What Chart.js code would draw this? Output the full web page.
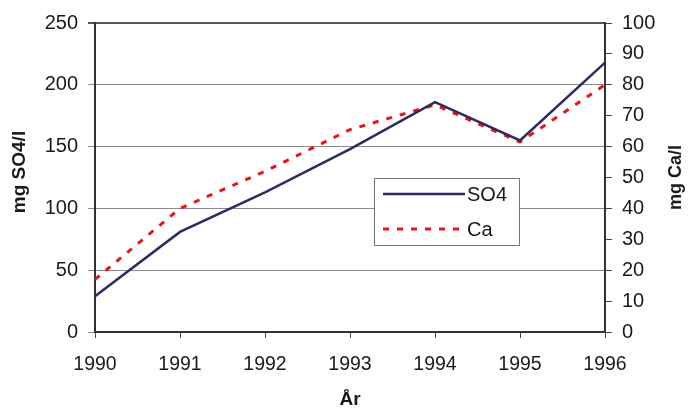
<!DOCTYPE html>
<html>
<head>
<meta charset="utf-8">
<script src="https://cdn.jsdelivr.net/npm/chart.js@4/dist/chart.umd.min.js"></script>
<style>
  html, body { margin: 0; padding: 0; background: #fff; }
  canvas { display: block; }
</style>
</head>
<body>
<canvas id="c" width="689" height="408"></canvas>
<script>
const years = ['1990', '1991', '1992', '1993', '1994', '1995', '1996'];
const so4Values = [29, 81, 113, 148, 186, 155, 218];
const caValues = [17, 40, 52, 65.5, 73.5, 61.5, 80];
const leftTicks = [0, 50, 100, 150, 200, 250];
const rightTicks = [0, 10, 20, 30, 40, 50, 60, 70, 80, 90, 100];
const leftTitle = 'mg SO4/l';
const rightTitle = 'mg Ca/l';
const xTitle = 'År';

const FONT = '"Liberation Sans", Arial, Helvetica, sans-serif';
const TXT = '#1a1a1a';

const sideTitlesPlugin = {
  id: 'sideTitles',
  afterDraw(chart) {
    const ctx = chart.ctx;
    const area = chart.chartArea;
    ctx.save();
    ctx.font = 'bold 19px ' + FONT;
    ctx.fillStyle = TXT;
    ctx.textAlign = 'center';
    ctx.textBaseline = 'middle';
    ctx.save();
    ctx.translate(20, 172);
    ctx.rotate(-Math.PI / 2);
    ctx.fillText(leftTitle, 0, 0);
    ctx.restore();
    ctx.save();
    ctx.translate(676, (area.top + area.bottom) / 2);
    ctx.rotate(-Math.PI / 2);
    ctx.font = 'bold 18px ' + FONT;
    ctx.fillText(rightTitle, 0, 0);
    ctx.restore();
    ctx.restore();
  }
};

const boxLegendPlugin = {
  id: 'boxLegend',
  afterDraw(chart) {
    const ctx = chart.ctx;
    const ds = chart.data.datasets;
    ctx.save();
    ctx.fillStyle = '#fff';
    ctx.fillRect(374, 178, 145, 67);
    ctx.strokeStyle = '#777';
    ctx.lineWidth = 1;
    ctx.strokeRect(374.5, 178.5, 145, 67);
    const rows = [194, 229];
    ds.forEach((d, i) => {
      const y = rows[i];
      ctx.beginPath();
      ctx.strokeStyle = d.borderColor;
      ctx.lineWidth = d.borderWidth;
      ctx.setLineDash(d.borderDash || []);
      ctx.moveTo(383, y);
      ctx.lineTo(465, y);
      ctx.stroke();
      ctx.setLineDash([]);
      ctx.fillStyle = TXT;
      ctx.font = '20px ' + FONT;
      ctx.textAlign = 'left';
      ctx.textBaseline = 'middle';
      ctx.fillText(d.label, 467, y + 1);
    });
    ctx.restore();
  }
};

new Chart(document.getElementById('c'), {
  type: 'line',
  data: {
    labels: years,
    datasets: [
      {
        label: 'SO4',
        data: so4Values,
        yAxisID: 'y',
        borderColor: '#2f2b5f',
        borderWidth: 2.5,
        pointRadius: 0,
        tension: 0,
        fill: false
      },
      {
        label: 'Ca',
        data: caValues,
        yAxisID: 'y1',
        borderColor: '#e8141c',
        borderWidth: 3,
        borderDash: [6, 8],
        pointRadius: 0,
        tension: 0,
        fill: false
      }
    ]
  },
  options: {
    responsive: false,
    animation: false,
    devicePixelRatio: 1,
    layout: { padding: { top: 23, left: 0, right: 0, bottom: 0 } },
    plugins: {
      legend: { display: false },
      tooltip: { enabled: false }
    },
    scales: {
      x: {
        type: 'category',
        offset: false,
        grid: { drawOnChartArea: false, drawTicks: true, tickLength: 6, color: '#444' },
        border: { display: true, color: '#333', width: 2 },
        ticks: { color: TXT, font: { family: FONT, size: 19.5 }, padding: 15, maxRotation: 0, autoSkip: false },
        title: { display: true, text: xTitle, color: TXT, font: { family: FONT, size: 19, weight: 'bold' }, padding: { top: 0, bottom: -3 } },
        afterFit(scale) { scale.height = 76; }
      },
      y: {
        position: 'left',
        min: 0,
        max: 250,
        afterBuildTicks(scale) { scale.ticks = leftTicks.map(v => ({ value: v })); },
        grid: {
          drawTicks: true,
          tickLength: 7,
          color: (c) => (c.tick && c.tick.value === 250 ? '#555' : '#8a8a8a'),
          lineWidth: (c) => (c.tick && c.tick.value === 250 ? 2 : 1)
        },
        border: { display: true, color: '#333', width: 2 },
        ticks: { color: TXT, font: { family: FONT, size: 20 }, padding: 10 },
        afterFit(scale) { scale.width = 95; }
      },
      y1: {
        position: 'right',
        min: 0,
        max: 100,
        afterBuildTicks(scale) { scale.ticks = rightTicks.map(v => ({ value: v })); },
        grid: { drawOnChartArea: false, drawTicks: true, tickLength: 7, color: '#444' },
        border: { display: true, color: '#333', width: 2 },
        ticks: { color: TXT, font: { family: FONT, size: 20 }, padding: 10 },
        afterFit(scale) { scale.width = 84; }
      }
    }
  },
  plugins: [sideTitlesPlugin, boxLegendPlugin]
});
</script>
</body>
</html>
